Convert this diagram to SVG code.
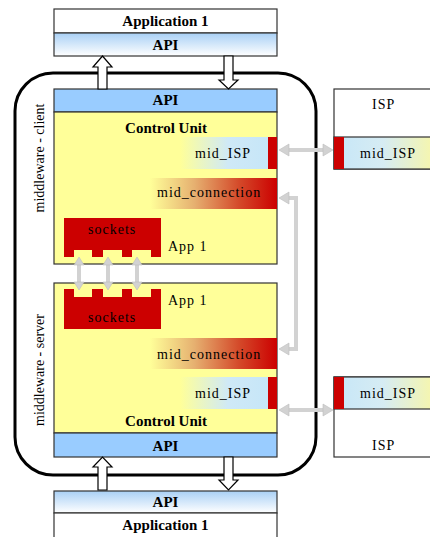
<svg xmlns="http://www.w3.org/2000/svg" width="430" height="537" viewBox="0 0 430 537">
<defs>
<style>
text{font-family:Liberation Serif,Times New Roman,DejaVu Serif,serif}
.b{font-weight:bold;font-size:15px;fill:#000;text-anchor:middle}
.n{font-size:14px;fill:#000;letter-spacing:1px}
.v{font-size:14px;fill:#000;text-anchor:middle}
.bx{stroke:#333;stroke-width:1.2}
.red{fill:#cc0000}
.gr{fill:none;stroke:#d2d2d2;stroke-width:4}
.gh{fill:#d2d2d2;stroke:#bdbdbd;stroke-width:0.6}
.wa{fill:#fff;stroke:#000;stroke-width:1.2}
</style>
<linearGradient id="apiG" x1="0" y1="0" x2="0" y2="1"><stop offset="0" stop-color="#a9d0f5"/><stop offset="1" stop-color="#ffffff"/></linearGradient>
<linearGradient id="isL" x1="0" y1="0" x2="1" y2="0"><stop offset="0" stop-color="#ffff99"/><stop offset="0.55" stop-color="#cfe9f7"/><stop offset="1" stop-color="#c6e6f8"/></linearGradient>
<linearGradient id="isR" x1="0" y1="0" x2="1" y2="0"><stop offset="0" stop-color="#c6e6f8"/><stop offset="0.45" stop-color="#d6ecf3"/><stop offset="1" stop-color="#fdf89e"/></linearGradient>
<linearGradient id="conG" x1="0" y1="0" x2="1" y2="0"><stop offset="0" stop-color="#ffff99"/><stop offset="0.35" stop-color="#e6b070"/><stop offset="0.7" stop-color="#d44a2a"/><stop offset="1" stop-color="#cc0000"/></linearGradient>
</defs>

<rect x="15" y="73" width="301" height="402" rx="38" ry="38" fill="none" stroke="#000" stroke-width="3"/>

<g id="app-top">
<rect x="54" y="9" width="223" height="24" fill="#fff" class="bx"/>
<rect x="54" y="33" width="223" height="23" fill="url(#apiG)" class="bx"/>
<text x="165.5" y="26" class="b">Application 1</text>
<text x="165.5" y="50" class="b">API</text>
</g>

<g id="client">
<rect x="54" y="89" width="223" height="23" fill="#99ccff" class="bx"/>
<text x="165.5" y="105" class="b">API</text>
<rect x="54" y="112" width="223" height="152" fill="#ffff99" class="bx"/>
<text x="166" y="133" class="b">Control Unit</text>
<rect x="180" y="137" width="88" height="32" fill="url(#isL)"/>
<rect x="268" y="137" width="9" height="32" class="red"/>
<text x="195" y="158" class="n">mid_ISP</text>
<rect x="150" y="178" width="127" height="31" fill="url(#conG)"/>
<text x="157" y="197" class="n">mid_connection</text>
<path d="M64 218H161V257H151V250H132V257H122V250H103V257H92V250H74V257H64Z" class="red"/>
<text x="88" y="234" class="n">sockets</text>
<text x="168" y="251" class="n">App 1</text>
<text transform="translate(44 158) rotate(-90)" class="v">middleware - client</text>
</g>

<g id="server">
<rect x="54" y="283" width="223" height="150" fill="#ffff99" class="bx"/>
<path d="M64 289H74V297H92V289H103V297H122V289H132V297H151V289H161V329H64Z" class="red"/>
<text x="88" y="322" class="n">sockets</text>
<text x="168" y="305" class="n">App 1</text>
<rect x="150" y="338" width="127" height="31" fill="url(#conG)"/>
<text x="157" y="359" class="n">mid_connection</text>
<rect x="180" y="377" width="88" height="32" fill="url(#isL)"/>
<rect x="268" y="377" width="9" height="32" class="red"/>
<text x="195" y="398" class="n">mid_ISP</text>
<text x="166" y="426" class="b">Control Unit</text>
<rect x="54" y="433" width="223" height="24" fill="#99ccff" class="bx"/>
<text x="165.5" y="451" class="b">API</text>
<text transform="translate(44 370) rotate(-90)" class="v">middleware - server</text>
</g>

<g id="isp-top">
<rect x="334" y="89" width="110" height="80" fill="#fff" class="bx"/>
<text x="372" y="109" class="n">ISP</text>
<rect x="334" y="137" width="110" height="32" fill="url(#isR)" class="bx"/>
<rect x="334" y="137" width="10" height="32" class="red"/>
<text x="360" y="158" class="n">mid_ISP</text>
</g>

<g id="isp-bottom">
<rect x="334" y="377" width="110" height="80" fill="#fff" class="bx"/>
<rect x="334" y="377" width="110" height="32" fill="url(#isR)" class="bx"/>
<rect x="334" y="377" width="10" height="32" class="red"/>
<text x="360" y="398" class="n">mid_ISP</text>
<text x="372" y="450" class="n">ISP</text>
</g>

<g id="app-bottom">
<rect x="54" y="491" width="223" height="22" fill="url(#apiG)" class="bx"/>
<rect x="54" y="513" width="223" height="30" fill="#fff" class="bx"/>
<text x="165.5" y="507" class="b">API</text>
<text x="165.5" y="530" class="b">Application 1</text>
</g>

<g id="connectors">
<polygon points="98,89 98,67 93,67 102.5,56 112,67 107,67 107,89" class="wa"/>
<polygon points="224,56 224,80 219,80 228.5,89 238,80 233,80 233,56" class="wa"/>
<polygon points="98,490 98,467 93,467 102.5,457 112,467 107,467 107,490" class="wa"/>
<polygon points="224,457 224,480 219,480 228.5,490 238,480 233,480 233,457" class="wa"/>

<line x1="288" y1="150" x2="324" y2="150" class="gr"/>
<polygon points="279,150 289,144 289,156" class="gh"/>
<polygon points="333,150 323,144 323,156" class="gh"/>
<line x1="288" y1="410" x2="324" y2="410" class="gr"/>
<polygon points="279,410 289,404 289,416" class="gh"/>
<polygon points="333,410 323,404 323,416" class="gh"/>

<polyline points="288,198 296,198 296,349 288,349" class="gr" stroke-width="5"/>
<polygon points="279,198 289,192 289,204" class="gh"/>
<polygon points="279,349 289,343 289,355" class="gh"/>

<line x1="79" y1="264" x2="79" y2="283" class="gr"/>
<polygon points="79,257 74,265 84,265" class="gh"/>
<polygon points="79,290 74,282 84,282" class="gh"/>
<line x1="108" y1="264" x2="108" y2="283" class="gr"/>
<polygon points="108,257 103,265 113,265" class="gh"/>
<polygon points="108,290 103,282 113,282" class="gh"/>
<line x1="137" y1="264" x2="137" y2="283" class="gr"/>
<polygon points="137,257 132,265 142,265" class="gh"/>
<polygon points="137,290 132,282 142,282" class="gh"/>
</g>
</svg>
